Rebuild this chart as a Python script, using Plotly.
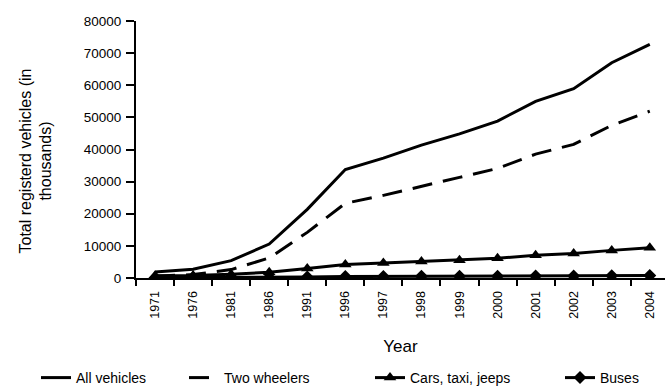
import plotly.graph_objects as go

years = ["1971", "1976", "1981", "1986", "1991", "1996", "1997", "1998",
         "1999", "2000", "2001", "2002", "2003", "2004"]
all_vehicles = [1865, 2700, 5391, 10577, 21374, 33786, 37332, 41368,
                44875, 48857, 54991, 58924, 67007, 72718]
two_wheelers = [576, 1057, 2618, 6245, 14200, 23252, 25729, 28642,
                31328, 34118, 38556, 41581, 47519, 51922]
cars = [682, 779, 1160, 1780, 2954, 4204, 4672, 5138,
        5556, 6143, 7058, 7613, 8599, 9451]
buses = [94, 115, 162, 227, 331, 449, 484, 538,
         540, 562, 634, 635, 721, 768]

FONT = "Liberation Sans, Arial, sans-serif"

fig = go.Figure()
fig.add_trace(go.Scatter(x=years, y=all_vehicles, name="All vehicles", mode="lines",
                         line=dict(color="black", width=3), legend="legend"))
fig.add_trace(go.Scatter(x=years, y=two_wheelers, name="Two wheelers", mode="lines",
                         line=dict(color="black", width=3, dash="20px,11px"),
                         legend="legend2"))
fig.add_trace(go.Scatter(x=years, y=cars, name="Cars, taxi, jeeps", mode="lines+markers",
                         line=dict(color="black", width=3),
                         marker=dict(symbol="triangle-up", size=11, color="black"),
                         legend="legend3"))
fig.add_trace(go.Scatter(x=years, y=buses, name="Buses", mode="lines+markers",
                         line=dict(color="black", width=3),
                         marker=dict(symbol="diamond", size=10, color="black"),
                         legend="legend4"))

def leg(xpx):
    return dict(orientation="h", xref="container", yref="container",
                x=xpx / 665, xanchor="left", y=(386 - 378) / 386, yanchor="middle",
                font=dict(size=14), bgcolor="rgba(0,0,0,0)")

fig.update_layout(
    width=665, height=386,
    margin=dict(l=136, r=0, t=21, b=108),
    plot_bgcolor="white", paper_bgcolor="white",
    font=dict(family=FONT, color="black", size=13),
    showlegend=True,
    legend=leg(36), legend2=leg(184), legend3=leg(370), legend4=leg(560),
    xaxis=dict(type="category", range=[-0.5, 13.4], showline=True, linecolor="black",
               linewidth=2, ticks="outside", tickson="boundaries", ticklen=6,
               tickcolor="black", tickwidth=1.5, tickangle=-90, showgrid=False,
               tickfont=dict(size=12.5), ticklabelstandoff=6, automargin=False,
               title=dict(text="Year", font=dict(size=17), standoff=22)),
    yaxis=dict(range=[0, 80000], dtick=10000, showline=True, linecolor="black",
               linewidth=2, ticks="outside", ticklen=8, tickcolor="black", tickwidth=1.5,
               showgrid=False, zeroline=False, tickformat="d", automargin=False,
               tickfont=dict(size=13.5), ticklabelstandoff=2),
    annotations=[dict(text="Total registerd vehicles (in<br>thousands)",
                      textangle=-90, xref="paper", yref="paper",
                      x=(35 - 136) / 529, y=(278 - 161.5) / 257,
                      xanchor="center", yanchor="middle", showarrow=False,
                      font=dict(size=16))],
)

fig.write_html("out.html")
